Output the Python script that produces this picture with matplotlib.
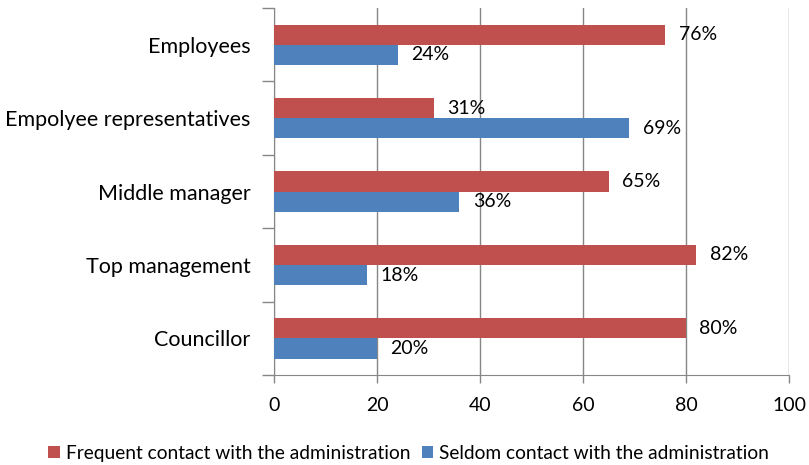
import numpy as np
import matplotlib.pyplot as plt

categories = ['Councillor', 'Top management', 'Middle manager',
              'Empolyee representatives', 'Employees']
frequent = [80, 82, 65, 31, 76]
seldom = [20, 18, 36, 69, 24]
series_names = ['Frequent contact with the administration',
                'Seldom contact with the administration']

plt.rcParams['font.family'] = ['Lato', 'DejaVu Sans']

fig = plt.figure(figsize=(8.09, 4.65), dpi=100)
ax = fig.add_axes([0.3387, 0.1935, 0.6366, 0.7893])

y = np.arange(len(categories))
h = 0.275
red = '#C0504D'
blue = '#4F81BD'
grey = '#868686'

b1 = ax.barh(y + h / 2, frequent, height=h, color=red, label=series_names[0], zorder=3)
b2 = ax.barh(y - h / 2, seldom, height=h, color=blue, label=series_names[1], zorder=3)

for bars, vals in [(b1, frequent), (b2, seldom)]:
    for bar, v in zip(bars, vals):
        ax.text(v + 2.6, bar.get_y() + bar.get_height() / 2, f'{v}%',
                va='center', ha='left', fontsize=14)

ax.set_xlim(0, 100)
ax.set_ylim(-0.5, len(categories) - 0.5)
ax.set_xticks(range(0, 101, 20))
ax.xaxis.grid(True, color=grey, linewidth=1, zorder=0)

ax.set_yticks(np.arange(len(categories) + 1) - 0.5)
ax.set_yticklabels([])
ax.set_yticks(y, minor=True)
ax.set_yticklabels(categories, minor=True)
ax.tick_params(axis='y', which='minor', length=0, pad=17, labelsize=15.5)
ax.tick_params(axis='y', which='major', length=8.5, color=grey, width=1)
ax.tick_params(axis='x', length=6, color=grey, width=1, labelsize=14, pad=10)

for s in ['top', 'right']:
    ax.spines[s].set_visible(False)
for s in ['left', 'bottom']:
    ax.spines[s].set_color(grey)

ax.legend(loc='lower center', bbox_to_anchor=(0.505, -0.03), bbox_transform=fig.transFigure,
          ncol=2, frameon=False, fontsize=13.8, handlelength=0.6, handleheight=0.6,
          handletextpad=0.3, columnspacing=0.6)

fig.savefig('out.png', dpi=100)
